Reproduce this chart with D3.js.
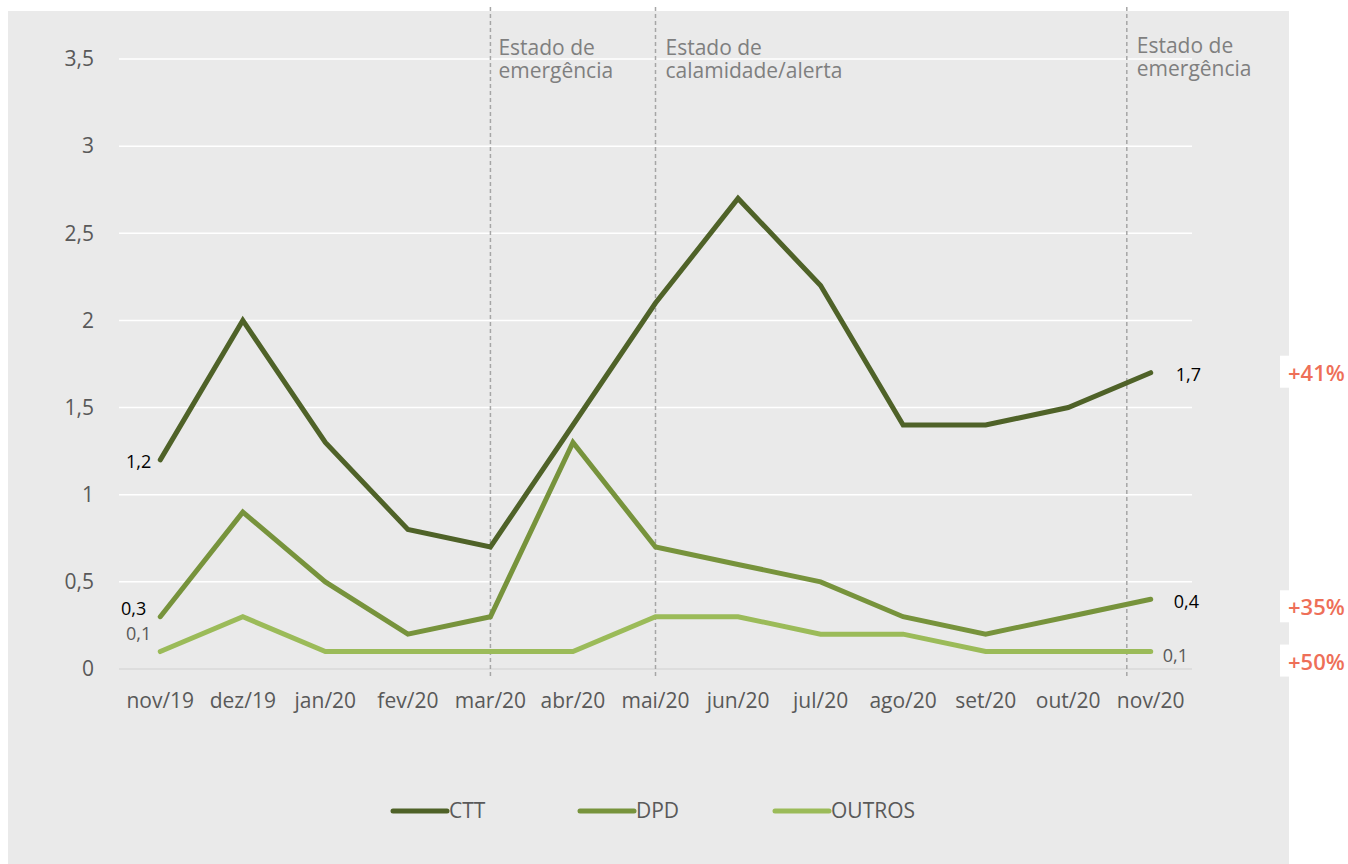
<!DOCTYPE html>
<html>
<head>
<meta charset="utf-8">
<script src="https://cdn.jsdelivr.net/npm/d3@7"></script>
<style>
  html, body { margin: 0; padding: 0; background: #ffffff; }
  svg { display: block; font-family: "Open Sans", "Noto Sans", sans-serif; }
</style>
</head>
<body>
<svg id="chart" width="1348" height="864"></svg>
<script>
// ---- data ----
const months = ["nov/19","dez/19","jan/20","fev/20","mar/20","abr/20","mai/20","jun/20","jul/20","ago/20","set/20","out/20","nov/20"];
const ctt    = [1.2, 2.0, 1.3, 0.8, 0.7, 1.4, 2.1, 2.7, 2.2, 1.4, 1.4, 1.5, 1.7];
const dpd    = [0.3, 0.9, 0.5, 0.2, 0.3, 1.3, 0.7, 0.6, 0.5, 0.3, 0.2, 0.3, 0.4];
const outros = [0.1, 0.3, 0.1, 0.1, 0.1, 0.1, 0.3, 0.3, 0.2, 0.2, 0.1, 0.1, 0.1];
const seriesNames = ["CTT", "DPD", "OUTROS"];
const yTicks = [0, 0.5, 1, 1.5, 2, 2.5, 3, 3.5];
const eventMonths = ["mar/20", "mai/20", "nov/20"];
const eventLabels = [["Estado de", "emergência"], ["Estado de", "calamidade/alerta"], ["Estado de", "emergência"]];
const changeLabels = ["+41%", "+35%", "+50%"];

// ---- setup ----
const svg = d3.select("#chart");
const colors = ["#4F6228", "#77933C", "#9BBB59"];
const seriesData = [ctt, dpd, outros];
const fmt = v => d3.format(".1f")(v).replace(".", ",");
const fmtTick = v => (Number.isInteger(v) ? String(v) : String(v).replace(".", ","));

svg.append("rect").attr("x", 8).attr("y", 11).attr("width", 1281).attr("height", 853).attr("fill", "#EAEAEA");

const x = d3.scaleBand().domain(months).range([119, 1192]);
const cx = m => x(m) + x.bandwidth() / 2;
const y = d3.scaleLinear().domain([0, 3.5]).range([669, 59]);

// gridlines
svg.append("g").selectAll("line").data(yTicks.filter(t => t > 0)).join("line")
  .attr("x1", 119).attr("x2", 1192)
  .attr("y1", d => y(d)).attr("y2", d => y(d))
  .attr("stroke", "#ffffff").attr("stroke-width", 1.5);

// baseline
svg.append("line").attr("x1", 119).attr("x2", 1192).attr("y1", y(0)).attr("y2", y(0))
  .attr("stroke", "#D9D9D9").attr("stroke-width", 1.5);

// y axis labels
const yAxis = d3.axisLeft(y).tickValues(yTicks).tickFormat(fmtTick).tickSize(0).tickPadding(0);
const gy = svg.append("g").attr("transform", "translate(94,0)").call(yAxis);
gy.select(".domain").remove();
gy.selectAll("text").attr("font-size", 21).attr("fill", "#595959").attr("font-family", "Open Sans");

// x axis labels
const xAxis = d3.axisBottom(x).tickSize(0).tickPadding(0);
const gx = svg.append("g").attr("transform", "translate(0,693)").call(xAxis);
gx.select(".domain").remove();
gx.selectAll("text").attr("font-size", 21).attr("fill", "#595959").attr("font-family", "Open Sans");

// event dashed lines
const eventOffsets = [0, 0, -0.29];
const eventX = eventMonths.map((m, i) => cx(m) + eventOffsets[i] * x.step());
svg.append("g").selectAll("line").data(eventX).join("line")
  .attr("x1", d => d).attr("x2", d => d).attr("y1", 7).attr("y2", 676)
  .attr("stroke", "#A6A6A6").attr("stroke-width", 1.5).attr("stroke-dasharray", "4,3");

const evText = svg.append("g").selectAll("text").data(eventLabels).join("text")
  .attr("x", (d, i) => eventX[i] + (i === 0 ? 8 : 10))
  .attr("y", (d, i) => i === 2 ? 53 : 55)
  .attr("font-size", 21).attr("fill", "#7F7F7F");
evText.selectAll("tspan").data(d => d).join("tspan")
  .attr("x", function() { return d3.select(this.parentNode).attr("x"); })
  .attr("dy", (d, i) => i === 0 ? 0 : 23)
  .text(d => d);

// lines
const line = d3.line().x((d, i) => cx(months[i])).y(d => y(d));
svg.append("g").selectAll("path").data(seriesData).join("path")
  .attr("d", d => line(d))
  .attr("fill", "none")
  .attr("stroke", (d, i) => colors[i])
  .attr("stroke-width", 5)
  .attr("stroke-linejoin", "miter")
  .attr("stroke-linecap", "round");

// data labels (first & last)
const labelStyle = [
  { first: [-9, 8], last: [25, 8], color: ["#000000", "#000000"] },
  { first: [-14, -2], last: [23, 9], color: ["#000000", "#000000"] },
  { first: [-9, -12], last: [12, 10], color: ["#595959", "#595959"] }
];
seriesData.forEach((s, i) => {
  const st = labelStyle[i];
  svg.append("text").attr("x", cx(months[0]) + st.first[0]).attr("y", y(s[0]) + st.first[1])
    .attr("text-anchor", "end").attr("font-size", 18).attr("fill", st.color[0]).text(fmt(s[0]));
  const n = s.length - 1;
  svg.append("text").attr("x", cx(months[n]) + st.last[0]).attr("y", y(s[n]) + st.last[1])
    .attr("text-anchor", "start").attr("font-size", 18).attr("fill", st.color[1]).text(fmt(s[n]));
});

// change labels on white boxes
const changeOffsets = [0, 8, 10];
seriesData.forEach((s, i) => {
  const yy = y(s[s.length - 1]) + changeOffsets[i];
  svg.append("rect").attr("x", 1280).attr("y", yy - 17).attr("width", 68).attr("height", 32).attr("fill", "#ffffff");
  svg.append("text").attr("x", 1288).attr("y", yy + 8).attr("font-size", 22).attr("font-weight", 600)
    .attr("fill", "#EE6F58").text(changeLabels[i]);
});

// legend
const legendX = [393, 580, 775];
const lg = svg.append("g").selectAll("g").data(seriesNames).join("g")
  .attr("transform", (d, i) => `translate(${legendX[i]},811)`);
lg.append("line").attr("x1", 0).attr("x2", 54).attr("y1", 0).attr("y2", 0)
  .attr("stroke", (d, i) => colors[i]).attr("stroke-width", 5).attr("stroke-linecap", "round");
lg.append("text").attr("x", 56).attr("y", 7).attr("font-size", 21).attr("fill", "#595959").text(d => d);
</script>
</body>
</html>
